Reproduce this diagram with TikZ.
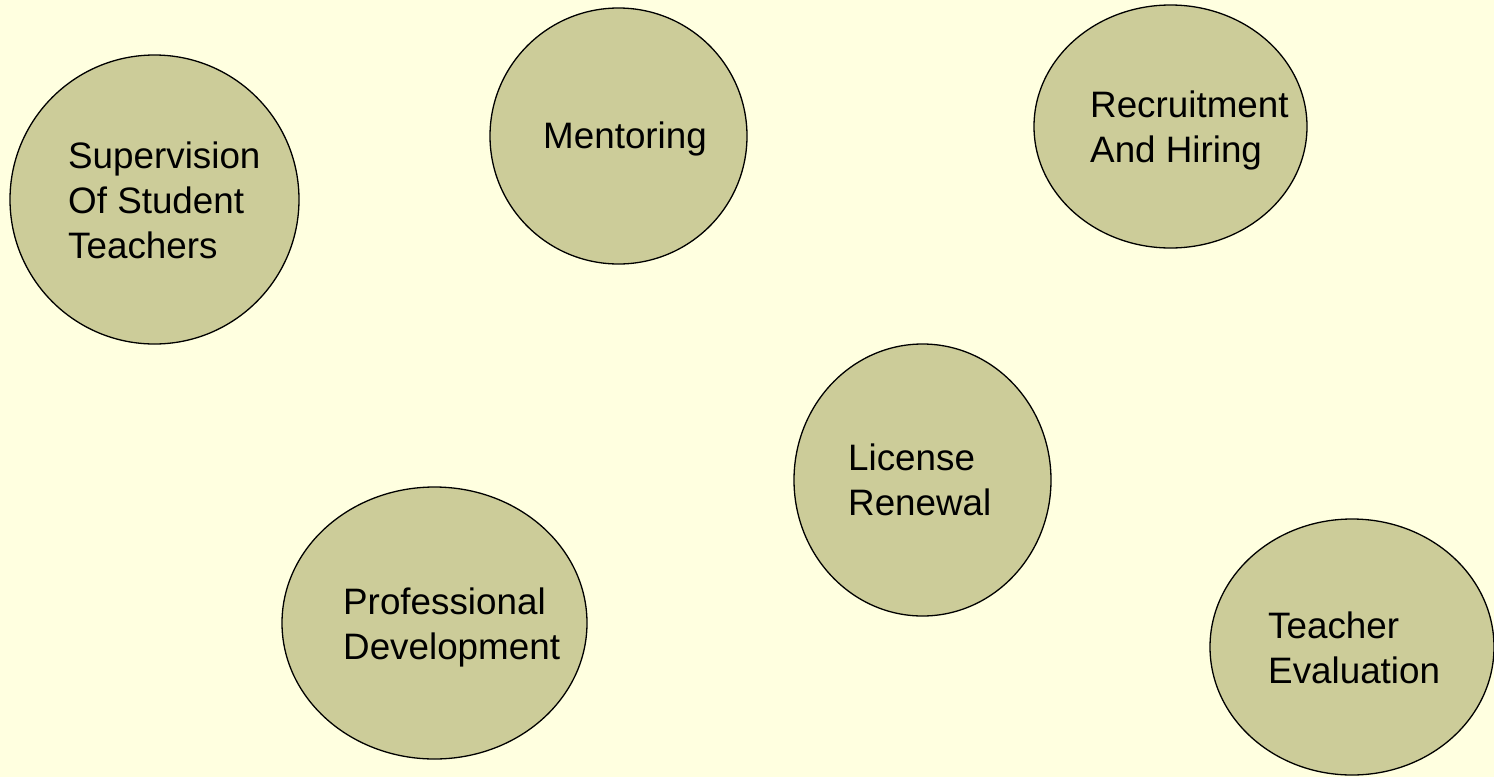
\documentclass[tikz,border=0pt]{standalone}
\usepackage{fontspec}
\setmainfont{Liberation Sans}
\usetikzlibrary{shapes.geometric}
\definecolor{bgyellow}{RGB}{255,255,224}
\definecolor{olivefill}{RGB}{204,204,153}
\begin{document}
\begin{tikzpicture}[x=1pt,y=-1pt,
  bubble/.style={ellipse,draw=black,line width=1.3pt,fill=olivefill,inner sep=0pt},
  lbl/.style={anchor=base west,inner sep=0pt,align=left,font=\fontsize{36.8}{45}\selectfont}]
\fill[bgyellow] (0,0) rectangle (1494,777);
\useasboundingbox (0,0) rectangle (1494,777);
\node[bubble,minimum width=289pt,minimum height=289pt] (sup) at (154.5,199.5) {};
\node[bubble,minimum width=257pt,minimum height=256pt] (men) at (618.5,136) {};
\node[bubble,minimum width=273pt,minimum height=243pt] (rec) at (1170.5,126.5) {};
\node[bubble,minimum width=257pt,minimum height=272pt] (lic) at (922.5,480) {};
\node[bubble,minimum width=305pt,minimum height=272pt] (pro) at (434.5,623) {};
\node[bubble,minimum width=284pt,minimum height=256pt] (tea) at (1352,647) {};
\node[lbl] (supt) at (68,258) {Supervision\\Of Student\\Teachers};
\node[lbl] (ment) at (543,148) {Mentoring};
\node[lbl] (rect) at (1090,162) {Recruitment\\And Hiring};
\node[lbl] (lict) at (848,515) {License\\Renewal};
\node[lbl] (prot) at (343,659) {Professional\\Development};
\node[lbl] (teat) at (1268,683) {Teacher\\Evaluation};
\end{tikzpicture}
\end{document}
